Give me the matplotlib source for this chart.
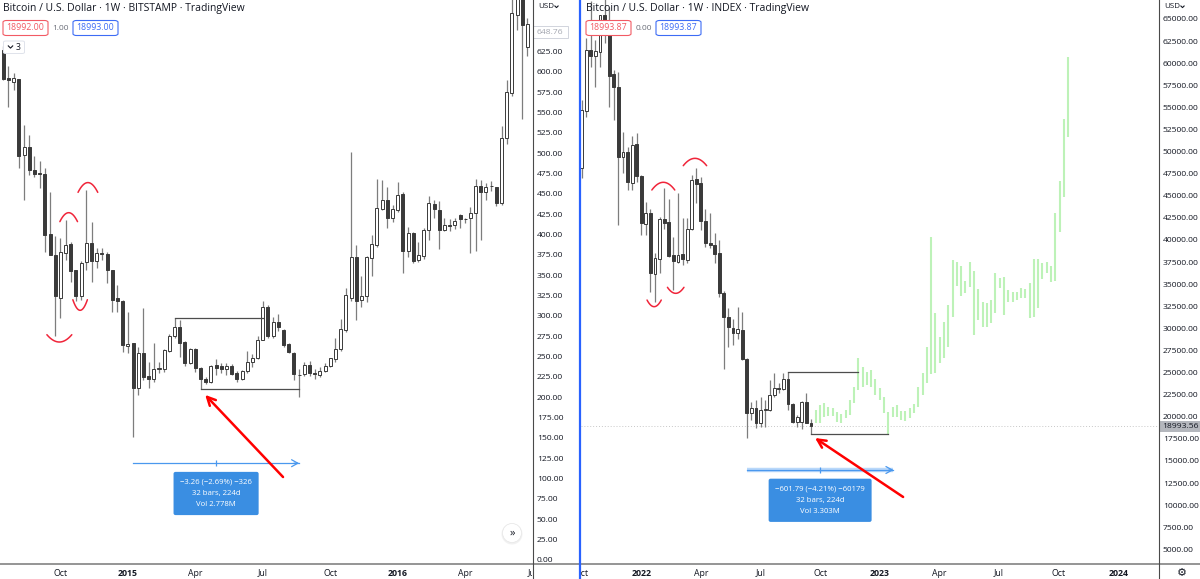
import numpy as np
import matplotlib
matplotlib.use("Agg")
import matplotlib.pyplot as plt
from matplotlib.patches import Rectangle, Ellipse, FancyBboxPatch
from matplotlib.transforms import Bbox

plt.rcParams['font.family'] = ['Open Sans', 'DejaVu Sans']

# ---------------- data: left panel (BTC/USD Bitstamp, weekly, Jul 2014 - Jun 2016) -------------
left_open = [627, 593, 588, 591, 498, 508, 479, 476, 475, 401, 375, 322, 378, 389, 357, 324, 366, 390, 367, 378,
             376, 357, 322, 318, 263, 267, 211, 254, 226, 223, 235, 235, 257, 275, 287, 268, 242, 260, 236, 222,
             219, 240, 238, 235, 239, 230, 222, 232, 243, 248, 271, 311, 275, 292, 283, 265, 255, 228, 229, 240,
             230, 228, 232, 238, 247, 260, 283, 322, 373, 320, 324, 371, 387, 432, 443, 421, 430, 450, 380, 402,
             369, 374, 406, 438, 430, 406, 412, 412, 424, 419, 420, 427, 460, 453, 460, 458, 439, 519, 574, 670,
             745, 631]
left_high = [632, 607, 599, 591, 535, 523, 497, 490, 482, 453, 398, 396, 418, 391, 357, 367, 455, 416, 383, 383,
             379, 357, 338, 320, 305, 267, 262, 310, 244, 267, 244, 260, 278, 297, 295, 269, 261, 261, 237, 225,
             240, 247, 242, 242, 241, 232, 233, 257, 253, 275, 318, 313, 299, 303, 284, 267, 256, 235, 243, 245,
             235, 237, 242, 248, 273, 296, 334, 502, 387, 349, 374, 400, 469, 467, 459, 437, 465, 452, 410, 403,
             391, 408, 448, 443, 441, 421, 419, 421, 425, 421, 434, 469, 467, 464, 466, 459, 534, 590, 700, 780,
             770, 666]
left_low = [590, 557, 578, 482, 443, 473, 471, 457, 379, 375, 275, 297, 369, 342, 318, 320, 357, 342, 359, 369,
            340, 305, 305, 256, 254, 151, 203, 221, 211, 219, 230, 231, 256, 273, 250, 238, 241, 231, 210, 216,
            217, 228, 230, 228, 228, 219, 221, 230, 237, 247, 271, 273, 273, 282, 262, 254, 221, 200, 226, 226,
            222, 225, 231, 237, 244, 257, 280, 319, 295, 311, 317, 349, 385, 430, 408, 416, 428, 353, 372, 365,
            366, 370, 394, 421, 382, 404, 405, 407, 408, 414, 378, 380, 394, 443, 454, 435, 437, 512, 570, 652,
            542, 620]
left_close = [591, 590, 593, 497, 508, 479, 475, 475, 400, 375, 324, 379, 387, 355, 324, 365, 390, 367, 377, 376,
              357, 320, 318, 264, 266, 211, 255, 225, 223, 235, 236, 258, 275, 287, 267, 242, 260, 236, 222, 219,
              238, 236, 235, 239, 229, 222, 232, 243, 248, 271, 311, 275, 293, 287, 264, 256, 229, 227, 240, 230,
              229, 232, 239, 248, 260, 284, 326, 373, 319, 325, 373, 388, 433, 443, 421, 432, 449, 380, 402, 368,
              375, 406, 439, 432, 406, 412, 411, 417, 419, 419, 427, 460, 453, 459, 460, 439, 519, 575, 673, 740,
              658, 659]
left_ticks_pos = [11, 24, 37, 50, 63, 76, 89, 102]
left_ticks_lab = ['Oct', '2015', 'Apr', 'Jul', 'Oct', '2016', 'Apr', 'Jul']
left_yticks = list(range(0, 626, 25))

# ---------------- data: right panel (BTC/USD index, weekly, Oct 2021 - Sep 2022) -------------
right_open = [48100, 54620, 61490, 60810, 61300, 65450, 64900, 58770, 57270, 49350, 49980, 46470, 50850, 47230,
              41800, 43010, 36150, 37810, 42370, 42060, 38290, 37540, 38400, 37730, 41200, 46860, 46410, 42180,
              39690, 39430, 38490, 34030, 31310, 30070, 29440, 29800, 26500, 20450, 20950, 19250, 20760, 20760,
              22460, 23210, 23100, 24230, 21440, 19440, 19440, 21700, 19330]
right_high = [55800, 62810, 67000, 62620, 64300, 69000, 66300, 59240, 59030, 52240, 50550, 51760, 52060, 47340,
              44320, 43500, 38490, 42630, 45840, 44590, 40300, 45270, 42440, 42440, 47350, 48170, 47150, 43550,
              43010, 40750, 40000, 34200, 32260, 31020, 32380, 31900, 26600, 21700, 21890, 22260, 21890, 24150,
              24950, 23810, 24910, 25090, 21580, 20190, 21780, 22720, 19700]
right_low = [47000, 53940, 59600, 57330, 59600, 62300, 55070, 53590, 41690, 47540, 45650, 45650, 46590, 40560,
             40560, 34140, 33010, 36300, 41200, 38100, 34330, 37350, 37160, 37350, 41120, 44210, 41120, 39240,
             39050, 37350, 33580, 25360, 27920, 28110, 28800, 26420, 17560, 19630, 18690, 18800, 18800, 20700,
             22200, 22680, 23020, 20760, 19300, 18800, 18580, 19330, 18010]
right_close = [54710, 61490, 60810, 61410, 65450, 64900, 58600, 57270, 49420, 49980, 46590, 50740, 47230, 41880,
               43010, 36220, 37920, 42330, 41950, 38180, 37650, 38290, 37800, 41200, 46780, 46320, 42140, 39620,
               39430, 38410, 33960, 31250, 30180, 29440, 29890, 26500, 20450, 20950, 19250, 20760, 20850, 22460,
               23210, 23150, 24230, 21440, 19440, 19930, 21700, 19330, 18990]
# projected "bars pattern" (green high/low lines)
proj_high = [20760, 21330, 21520, 21130, 20950, 20570, 20310, 20760, 21890, 23400, 26610, 25660, 25090, 25280,
             24230, 23210, 22260, 20570, 21130, 21330, 20650, 20680, 20950, 21440, 23330, 24980, 27920, 40300,
             31700, 29050, 30750, 32640, 37730, 37540, 37080, 35350, 37470, 36520, 34410, 33010, 32830, 33200,
             36290, 35730, 35800, 34330, 34110, 34110, 34530, 34480, 35090, 37840, 37840, 37350, 37540, 37050,
             43010, 46670, 53680, 60730]
proj_low = [19250, 19320, 19930, 20080, 20080, 19440, 19320, 19820, 20190, 21520, 23020, 23400, 23590, 23400,
            22460, 21890, 20390, 18010, 19930, 20000, 19630, 19550, 19820, 20390, 21130, 22460, 23780, 24830,
            24910, 26040, 26610, 27920, 31310, 34790, 33660, 33960, 34710, 29240, 30940, 30180, 30180, 30570,
            31700, 34530, 31510, 33010, 33010, 33200, 33400, 33400, 31130, 31310, 32260, 35550, 36220, 35270,
            35390, 40930, 44820, 51610]
proj_start_week = 51
proj_end_week = 106.1
right_ticks_pos = [0, 13, 26, 39, 52, 65, 78, 91, 104, 117]
right_ticks_lab = ['Oct', '2022', 'Apr', 'Jul', 'Oct', '2023', 'Apr', 'Jul', 'Oct', '2024']
right_yticks = list(range(5000, 65001, 2500))
right_last_price = 18993.56
left_last_price = 648.76

# annotations (data coordinates): arcs (center, half-width, extreme, ends)
left_arcs = [(12.6, 1.7, 427, 416), (16.3, 1.9, 464, 452), (10.8, 2.4, 268, 277), (14.8, 1.4, 307, 320)]
right_arcs = [(17.8, 2.5, 46520, 45650), (24.7, 2.55, 49230, 48400), (15.8, 1.55, 32450, 33200), (20.5, 1.8, 33960, 34640)]

# ---------------- figure -------------
W, H = 1200, 579
fig = plt.figure(figsize=(W / 100, H / 100), dpi=100)
fig.patch.set_facecolor('white')


def fx(px):
    return px / W


def fy(py):
    return 1 - py / H


axL = fig.add_axes([0, fy(563), 532 / W, 563 / H])
axR = fig.add_axes([581 / W, fy(563), (1158 - 581) / W, 563 / H])

axL.set_xlim(-0.636, 101.87)
axL.set_ylim(-3.69, 688.5)
axR.set_xlim(-0.153, 125.69)
axR.set_ylim(3450, 67145)

for ax in (axL, axR):
    for s in ax.spines.values():
        s.set_visible(False)
    ax.set_xticks([])
    ax.yaxis.tick_right()
    ax.tick_params(axis='y', length=0, pad=3.5, labelsize=6.1, labelcolor='#131722')
    ax.set_facecolor('white')

axL.set_yticks(left_yticks)
axL.set_yticklabels([f"{v:.2f}" for v in left_yticks])
axR.set_yticks(right_yticks)
axR.set_yticklabels([f"{v:.2f}" for v in right_yticks])

DARK = '#3a3a3a'
WICK = '#7d7d7d'


def candles(ax, o, h, l, c, width):
    o, h, l, c = map(np.asarray, (o, h, l, c))
    x = np.arange(len(o))
    up = c >= o
    ax.vlines(x, l, h, color=WICK, lw=0.9, zorder=2)
    ax.bar(x[up], (c - o)[up], bottom=o[up], width=width, facecolor='white',
           edgecolor=DARK, linewidth=0.7, zorder=3)
    ax.bar(x[~up], (c - o)[~up], bottom=o[~up], width=width, facecolor=DARK,
           edgecolor=DARK, linewidth=0.7, zorder=3)


candles(axL, left_open, left_high, left_low, left_close, 0.58)
candles(axR, right_open, right_high, right_low, right_close, 0.62)

# projection bars
proj_x = np.linspace(proj_start_week, proj_end_week, len(proj_high))
axR.vlines(proj_x, proj_low, proj_high, color='#bdf2b8', lw=1.5, zorder=2)

# dotted last price line on right panel
axR.axhline(right_last_price, color='#c8c8c8', lw=0.7, ls=(0, (1, 2)), zorder=1)

LINE = '#4d4d4d'
axL.plot([33, 50], [left_high[33], left_high[33]], color=LINE, lw=0.9, zorder=4)
axL.plot([38, 57], [left_low[38], left_low[38]], color=LINE, lw=0.9, zorder=4)
i_peak = int(np.argmax(proj_high[:20]))
i_low = int(np.argmin(proj_low[:20]))
axR.plot([45, proj_x[i_peak]], [right_high[45], right_high[45]], color=LINE, lw=0.9, zorder=4)
axR.plot([50, proj_x[i_low]], [right_low[50], right_low[50]], color=LINE, lw=0.9, zorder=4)

RED = '#f0253a'


def arc(ax, xc, half, y_ext, y_end):
    t = np.linspace(-1, 1, 40)
    ys = y_end + (y_ext - y_end) * (1 - t ** 2)
    ax.plot(xc + half * t, ys, color=RED, lw=1.1, zorder=5, solid_capstyle='round')


for a in left_arcs:
    arc(axL, *a)
for a in right_arcs:
    arc(axR, *a)

axL.annotate('', xy=(38.9, 203), xytext=(53.9, 102),
             arrowprops=dict(arrowstyle='->,head_length=0.6,head_width=0.3', color='#ff0000', lw=1.8,
                             shrinkA=0, shrinkB=0), zorder=6)
axR.annotate('', xy=(50.9, 17590), xytext=(70.1, 10920),
             arrowprops=dict(arrowstyle='->,head_length=0.6,head_width=0.3', color='#ff0000', lw=1.8,
                             shrinkA=0, shrinkB=0), zorder=6)

BLUE = '#4a98ee'


def measure(ax, x0, x1, yv, text, double=False):
    if double:
        ax.plot([x0, x1], [yv, yv], color='#b9d8fa', lw=3.2, zorder=4, solid_capstyle='butt')
    ax.plot([x0, x1], [yv, yv], color=BLUE, lw=0.9, zorder=5)
    ax.annotate('', xy=(x1, yv), xytext=(x1 - 1, yv),
                arrowprops=dict(arrowstyle='->,head_length=0.45,head_width=0.25', color=BLUE, lw=0.9,
                                shrinkA=0, shrinkB=0), zorder=5)
    mid = (x0 + x1) / 2
    ax.plot([mid], [yv], marker='|', ms=4, color=BLUE, mew=0.9, zorder=5)
    ax.annotate(text, xy=(mid, yv), xytext=(0, -11), textcoords='offset points', ha='center', va='top',
                fontsize=5.6, color='white', linespacing=1.9, zorder=7,
                bbox=dict(boxstyle='round,pad=0.85,rounding_size=0.25', fc='#3a8ee2', ec='none'))


measure(axL, 25, 57, 119, "\u22123.26 (\u22122.69%) \u2212326\n32 bars, 224d\nVol 2.778M")
measure(axR, 36, 68, 13970, "\u2212601.79 (\u22124.21%) \u221260179\n32 bars, 224d\nVol 3.303M", double=True)


def fig_line(xs, ys, **kw):
    fig.add_artist(plt.Line2D([fx(x) for x in xs], [fy(y) for y in ys], transform=fig.transFigure, **kw))


fig_line([0, W], [563.5, 563.5], color='#8c8c8c', lw=1.3)
fig_line([532.5, 532.5], [0, H], color='#4a4a4a', lw=0.8)
fig_line([1158.5, 1158.5], [0, H], color='#4a4a4a', lw=0.8)
fig_line([580, 580], [0, H], color='#2962ff', lw=1.6)


def chevron(xc, yc, size=2.2, col='#131722'):
    fig_line([xc - size, xc, xc + size], [yc - size / 2, yc + size / 2, yc - size / 2], color=col, lw=0.8)


def time_labels(ax, pos, labs, x0px, x1px):
    for p, lab in zip(pos, labs):
        px = ax.transData.transform((p, 0))[0]
        t = fig.text(px / W, fy(573), lab, ha='center', va='center', fontsize=6.3, color='#131722',
                     fontweight='bold' if lab.isdigit() else 'normal')
        t.set_clip_box(Bbox.from_extents(x0px, 0, x1px, 17))
        t.set_clip_on(True)


time_labels(axL, left_ticks_pos, left_ticks_lab, 0, 532)
time_labels(axR, right_ticks_pos, right_ticks_lab, 581, 1158)

fig.text(fx(3), fy(9), "Bitcoin / U.S. Dollar \u00b7 1W \u00b7 BITSTAMP \u00b7 TradingView", fontsize=7.5,
         color='#131722', va='center', ha='left')
fig.text(fx(586), fy(9), "Bitcoin / U.S. Dollar \u00b7 1W \u00b7 INDEX \u00b7 TradingView", fontsize=7.5,
         color='#131722', va='center', ha='left')


def button(x0, x1, text, col):
    fig.add_artist(FancyBboxPatch((fx(x0), fy(35.5)), (x1 - x0) / W, 15 / H,
                                  boxstyle='round,pad=0,rounding_size=0.003', transform=fig.transFigure,
                                  fc='white', ec=col, lw=0.8))
    fig.text(fx((x0 + x1) / 2), fy(28), text, fontsize=6.3, color=col, ha='center', va='center')


button(3, 48, "18992.00", '#f25a64')
fig.text(fx(61), fy(28), "1.00", fontsize=6.0, color='#6a6d78', ha='center', va='center')
button(73, 118, "18993.00", '#3d6cf5')
button(586, 631, "18993.87", '#f25a64')
fig.text(fx(643.5), fy(28), "0.00", fontsize=6.0, color='#6a6d78', ha='center', va='center')
button(656, 701, "18993.87", '#3d6cf5')

fig.add_artist(FancyBboxPatch((fx(3.5), fy(53.5)), 21 / W, 12.5 / H,
                              boxstyle='round,pad=0,rounding_size=0.002', transform=fig.transFigure,
                              fc='white', ec='#e0e3eb', lw=0.7))
chevron(10.5, 47.0)
fig.text(fx(18.5), fy(47.2), "3", fontsize=6.2, color='#131722', ha='center', va='center')

fig.text(fx(538), fy(6.5), "USD", fontsize=5.8, color='#131722', ha='left', va='center')
chevron(556.5, 6.8, size=1.6)
fig.text(fx(1164), fy(6.5), "USD", fontsize=5.8, color='#131722', ha='left', va='center')
chevron(1182.5, 6.8, size=1.6)

fig.add_artist(Rectangle((fx(533), fy(38)), 35 / W, 11.5 / H, transform=fig.transFigure,
                         fc='white', ec='#d1d4dc', lw=0.7))
fig.text(fx(536.5), fy(32.3), f"{left_last_price:.2f}", fontsize=6.1, color='#a3a6af', ha='left', va='center')
fig.add_artist(Rectangle((fx(1159), fy(431.5)), 41 / W, 10.5 / H, transform=fig.transFigure,
                         fc='#b4b7bd', ec='none'))
fig.text(fx(1162.5), fy(426.3), f"{right_last_price:.2f}", fontsize=6.1, color='#131722', ha='left', va='center')

fig.add_artist(Ellipse((fx(512), fy(534)), 21 / W, 21 / H, transform=fig.transFigure,
                       fc='#eeeeee', ec='none', alpha=0.8))
fig.add_artist(Ellipse((fx(512), fy(533)), 19 / W, 19 / H, transform=fig.transFigure,
                       fc='white', ec='#e6e6e6', lw=0.5))
fig.text(fx(512), fy(533), "\u00bb", fontsize=8, color='#131722', ha='center', va='center')
fig.text(fx(1182), fy(572.5), "\u2699", fontsize=8, color='#131722', ha='center', va='center',
         family=['DejaVu Sans'])

fig.savefig("out.png", dpi=100, facecolor='white')
